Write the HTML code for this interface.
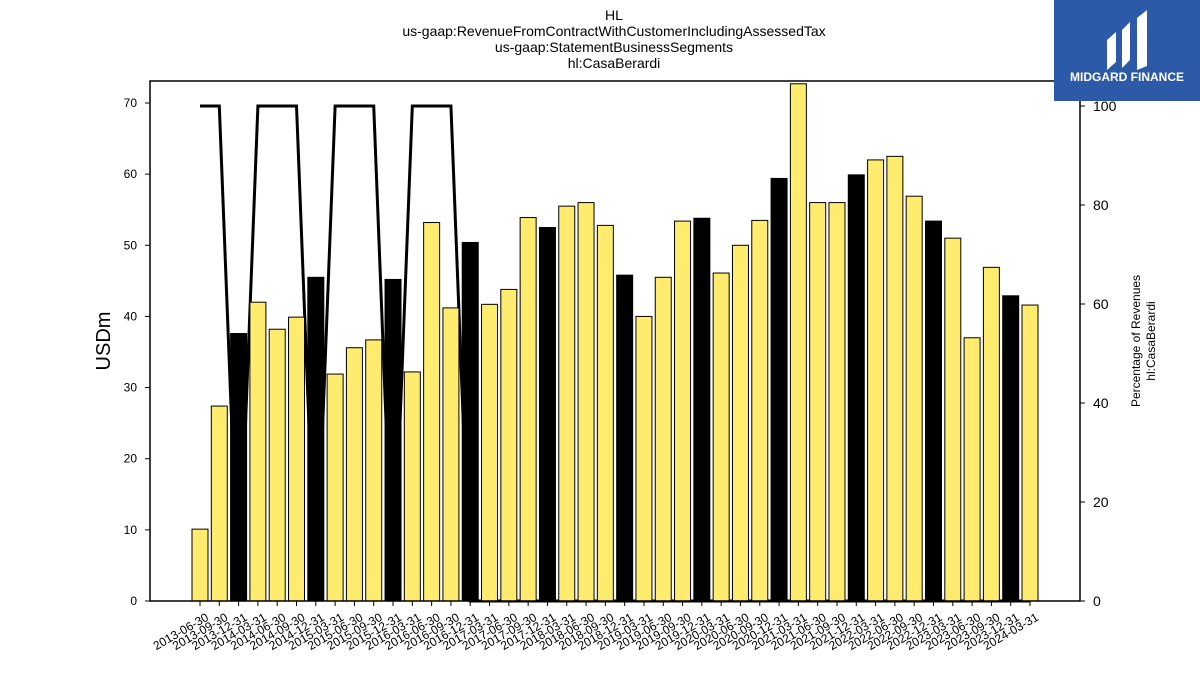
<!DOCTYPE html>
<html><head><meta charset="utf-8"><style>
body{margin:0;background:#fff;font-family:"Liberation Sans","DejaVu Sans",sans-serif;}
</style></head><body>
<svg id="c" width="1200" height="675" xmlns="http://www.w3.org/2000/svg">
<g font-size="14" text-anchor="middle" fill="#000">
<text x="614" y="20">HL</text>
<text x="614" y="36">us-gaap:RevenueFromContractWithCustomerIncludingAssessedTax</text>
<text x="614" y="52">us-gaap:StatementBusinessSegments</text>
<text x="614" y="68">hl:CasaBerardi</text>
</g>
<g id="plot"></g>
<rect x="150" y="81" width="930" height="520" fill="none" stroke="#000" stroke-width="1.5"/>
<text transform="translate(110,341) rotate(-90)" font-size="20" text-anchor="middle">USDm</text>
<g transform="translate(1140,341) rotate(-90)" font-size="12" text-anchor="middle">
<text y="0">Percentage of Revenues</text><text y="15">hl:CasaBerardi</text></g>
<g>
<rect x="1054" y="0" width="146" height="101" fill="#2c5aa8"/>
<path d="M1107 70 L1107 40 L1116 32 L1116 62 Z M1122 68 L1122 30 L1130 22 L1130 60 Z M1137 70 L1137 18 L1147 10 L1147 66 Z" fill="#fff"/>
<text x="1127" y="81" font-size="12" font-weight="bold" fill="#fff" text-anchor="middle">MIDGARD FINANCE</text>
</g>
</svg>
<script>
const dates=["2013-06-30","2013-09-30","2013-12-31","2014-03-31","2014-06-30","2014-09-30","2014-12-31","2015-03-31","2015-06-30","2015-09-30","2015-12-31","2016-03-31","2016-06-30","2016-09-30","2016-12-31","2017-03-31","2017-06-30","2017-09-30","2017-12-31","2018-03-31","2018-06-30","2018-09-30","2018-12-31","2019-03-31","2019-06-30","2019-09-30","2019-12-31","2020-03-31","2020-06-30","2020-09-30","2020-12-31","2021-03-31","2021-06-30","2021-09-30","2021-12-31","2022-03-31","2022-06-30","2022-09-30","2022-12-31","2023-03-31","2023-06-30","2023-09-30","2023-12-31","2024-03-31"];
const revenue=[10.1,27.4,37.6,42.0,38.2,39.9,45.5,31.9,35.6,36.7,45.2,32.2,53.2,41.2,50.4,41.7,43.8,53.9,52.5,55.5,56.0,52.8,45.8,40.0,45.5,53.4,53.8,46.1,50.0,53.5,59.4,72.7,56.0,56.0,59.9,62.0,62.5,56.9,53.4,51.0,37.0,46.9,42.9,41.6];
const pct=[100,100,0,100,100,100,0,100,100,100,0,100,100,100,0,0,0,0,0,0,0,0,0,0,0,0,0,0,0,0,0,0,0,0,0,0,0,0,0,0,0,0,0,0];
const leftTicks=[0,10,20,30,40,50,60,70];
const rightTicks=[0,20,40,60,80,100];
const NS="http://www.w3.org/2000/svg";
const g=document.getElementById('plot');
const x=i=>200+i*(830/43);
const y=v=>601-v*(498/70);
const yr=v=>601-v*4.95;
function mk(t,a){const e=document.createElementNS(NS,t);for(const k in a)e.setAttribute(k,a[k]);g.appendChild(e);return e;}
let d=pct.map((p,i)=>(i?'L':'M')+x(i)+' '+yr(p)).join(' ');
const ln=mk('path',{d:d,fill:'none',stroke:'#000','stroke-width':3});


revenue.forEach((v,i)=>{
 const r=mk('rect',{x:x(i)-8,y:y(v),width:16,height:601-y(v),fill:dates[i].endsWith('12-31')?'#000':'#ffeb6e',stroke:'#000','stroke-width':1});
 
 
 const tk=mk('line',{x1:x(i),x2:x(i),y1:601,y2:606,stroke:'#000'});
 
 
 const t=mk('text',{transform:`translate(${x(i)+5},612) rotate(-30)`,'font-size':12,'text-anchor':'end','dominant-baseline':'hanging'});
 t.textContent=dates[i];
 
 
});
leftTicks.forEach(v=>{
 const l=mk('line',{x1:145,x2:150,y1:y(v),y2:y(v),stroke:'#000'});
 
 
 const t=mk('text',{x:137,y:y(v)+4,'font-size':12,'text-anchor':'end'});
 t.textContent=v;
 
 
});
rightTicks.forEach(v=>{
 const l=mk('line',{x1:1080,x2:1085,y1:yr(v),y2:yr(v),stroke:'#000'});
 
 
 const t=mk('text',{x:1093,y:yr(v)+5,'font-size':14});
 t.textContent=v;
 
 
});
</script>
</body></html>
